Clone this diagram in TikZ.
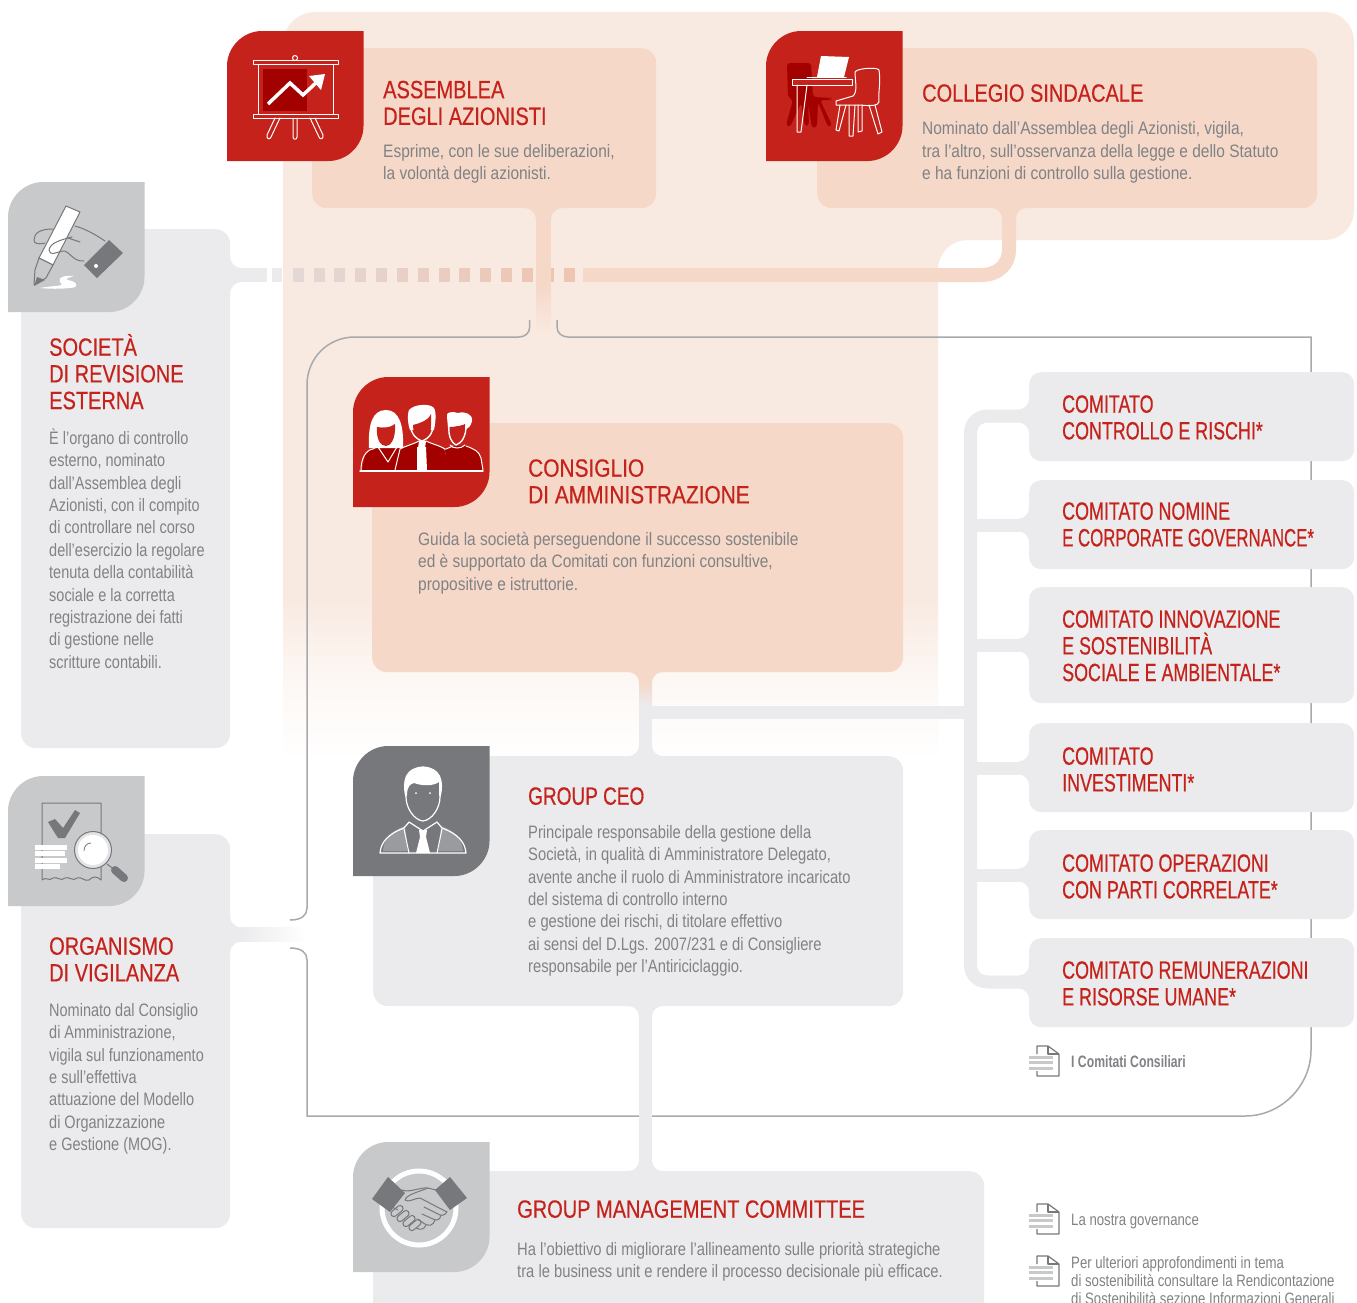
\documentclass[tikz,border=0pt]{standalone}
\usepackage{fontspec}
\usepackage{graphicx}
\newfontfamily\hdfont[FakeStretch=0.80,FakeBold=0.45]{Liberation Sans}
\newfontfamily\hdbfont[FakeStretch=0.835,FakeBold=0.45]{Liberation Sans}
\newfontfamily\cmfont[FakeStretch=0.715,FakeBold=0.45]{Liberation Sans}
\newfontfamily\bdfont[FakeStretch=0.82]{Liberation Sans}
\newfontfamily\bdafont[FakeStretch=0.86]{Liberation Sans}
\newfontfamily\bdcfont[FakeStretch=0.805]{Liberation Sans}
\newfontfamily\ntfont[FakeStretch=0.80]{Liberation Sans}
\newfontfamily\ntbfont[FakeStretch=0.74]{Liberation Sans}
\definecolor{redc}{HTML}{C4221A}
\definecolor{dred}{HTML}{A30000}
\definecolor{tabg}{HTML}{C8C9CB}
\definecolor{darkg}{HTML}{77787B}
\definecolor{midg}{HTML}{9A9B9E}
\definecolor{pang}{HTML}{EBEBED}
\definecolor{bgp}{HTML}{F9EAE1}
\definecolor{panp}{HTML}{F5D8C8}
\definecolor{txg}{HTML}{808285}
\definecolor{frm}{HTML}{A7A9AC}
\definecolor{sqa}{HTML}{EFC4B0}
\definecolor{sqb}{HTML}{E3D8D6}
\tikzset{
 panelp/.style={fill=panp,rounded corners=15pt,inner sep=0pt,anchor=north west},
 panelg/.style={fill=pang,rounded corners=15pt,inner sep=0pt,anchor=north west},
 combox/.style={fill=pang,rounded corners=12pt,inner sep=0pt,anchor=north west,minimum width=325pt},
 ttlst/.style={inner sep=0pt,anchor=north west,align=left,text=redc,font={\hdfont\fontsize{25}{26.7}\selectfont}},
 ttlb/.style={font={\hdbfont\fontsize{25}{26.7}\selectfont}},
 ttlcm/.style={font={\cmfont\fontsize{25}{26.7}\selectfont}},
 bodyst/.style={inner sep=0pt,anchor=north west,align=left,text=txg,font={\bdfont\fontsize{18}{22.4}\selectfont}},
 bodya/.style={font={\bdafont\fontsize{18}{22.4}\selectfont}},
 bodyc/.style={font={\bdcfont\fontsize{18}{22.4}\selectfont}},
 notest/.style={inner sep=0pt,anchor=north west,align=left,text=txg,font={\ntfont\fontsize{16.5}{18}\selectfont}},
 framel/.style={draw=frm,line width=1.5pt},
 wl/.style={draw=white,line width=1pt,line join=round,line cap=round},
 gl/.style={draw=darkg,line width=1pt,line join=round,line cap=round},
}
\newcommand\pnl[7][]{\node[#2,minimum width=#6pt,minimum height=#7pt,#1] (#3) at (#4,#5) {};}
\newcommand\ttl[5][]{\node[ttlst,#1] (#2) at (#3,{#4-25}) {\rule{0pt}{25pt}#5};}
\newcommand\bdy[5][]{\node[bodyst,#1] (#2) at (#3,{#4-18}) {\rule{0pt}{18pt}#5};}
\newcommand\tabsh[4]{%
 \coordinate (#1) at (#2,#3);
 \fill[#4] ({#2+35},#3) -- ({#2+136.5},#3) -- ({#2+136.5},{#3+95}) .. controls ({#2+136.5},{#3+114}) and ({#2+120.5},{#3+130}) .. ({#2+101.5},{#3+130}) -- (#2,{#3+130}) -- (#2,{#3+35}) .. controls (#2,{#3+16}) and ({#2+16},#3) .. ({#2+35},#3) -- cycle;}
% flareH: box edge x, centre y, half width, direction, radius, colour
\newcommand\flareH[6]{\fill[#6] ({#1+#4*#5},{#2-#3}) .. controls ({#1+#4*#5*.45},{#2-#3}) and (#1,{#2-#3-#5*.55}) .. (#1,{#2-#3-#5}) -- (#1,{#2+#3+#5}) .. controls (#1,{#2+#3+#5*.55}) and ({#1+#4*#5*.45},{#2+#3}) .. ({#1+#4*#5},{#2+#3}) -- cycle;}
% flareV: centre x, box edge y, half width, direction, radius, colour
\newcommand\flareV[6]{\fill[#6] ({#1-#3},{#2+#4*#5}) .. controls ({#1-#3},{#2+#4*#5*.45}) and ({#1-#3-#5*.55},#2) .. ({#1-#3-#5},#2) -- ({#1+#3+#5},#2) .. controls ({#1+#3+#5*.55},#2) and ({#1+#3},{#2+#4*#5*.45}) .. ({#1+#3},{#2+#4*#5}) -- cycle;}
\newcommand\docicon[3]{%
 \coordinate (#1) at (#2,#3);
 \foreach \dy in {11,16.5,22}{\draw[tabg,line width=3pt] (#2,{#3+\dy}) -- ({#2+24},{#3+\dy});}
 \draw[darkg,line width=1.2pt,line join=round] ({#2+8},{#3+8}) -- ({#2+8},#3) -- ({#2+19},#3) -- ({#2+30},{#3+8}) -- ({#2+30},{#3+30}) -- ({#2+8},{#3+30}) -- ({#2+8},{#3+25});
 \draw[darkg,line width=1.2pt,line join=round] ({#2+19},#3) -- ({#2+19},{#3+8}) -- ({#2+30},{#3+8});}
\begin{document}
\begin{tikzpicture}[x=1pt,y=-1pt]
\useasboundingbox (0,0) rectangle (1357,1302);
\clip (0,0) rectangle (1357,1302);
\fill[white] (0,0) rectangle (1357,1302);
% background
\fill[bgp] (283,600) -- (283,45) .. controls (283,26) and (297,12) .. (316,12) -- (1324,12) .. controls (1341,12) and (1354,25) .. (1354,42) -- (1354,210) .. controls (1354,227) and (1341,240) .. (1324,240) -- (968,240) .. controls (951,240) and (938,253) .. (938,270) -- (938,600) -- cycle;
\fill[top color=bgp,bottom color=bgp!35!white] (283,600) rectangle (938,680);
\fill[top color=bgp!35!white,bottom color=white] (283,680) rectangle (938,760);
% panels
\pnl{panelp}{asm}{312}{48}{344}{160}
\pnl{panelp}{col}{817}{48}{500}{160}
\pnl{panelg}{soc}{21}{229}{209}{519}
\pnl{panelg}{odv}{21}{834}{209}{394}
% squares
\fill[pang] (272,268) rectangle (282,282);
\foreach \sx/\sp in {293/0,314/8,334/16,355/24,376/32,397/40,418/48,439/56,459/64,480/72,501/80,522/88,543/94,564/100}{
 \fill[sqa!\sp!sqb] (\sx,268) rectangle ({\sx+10.5},282);
}
% frame
\coordinate (fa) at (529.7,320); \coordinate (fb) at (290,920);
\coordinate (fc) at (290,948); \coordinate (fd) at (557,320);
\draw[framel] (fa) -- (529.7,327) .. controls (529.7,333) and (525,337) .. (519,337) -- (355,337) .. controls (328,337) and (307,358) .. (307,385) -- (307,908) .. controls (307,915) and (302,920) .. (fb);
\draw[framel] (fc) .. controls (302,948) and (307,953) .. (307,960) -- (307,1116) -- (1245,1116) .. controls (1281,1116) and (1311,1086) .. (1311,1050) -- (1311,337) -- (568,337) .. controls (562,337) and (557,333) .. (557,327) -- (fd);
% soc connector
\flareH{230}{275}{7}{1}{11}{pang}
\draw[pang,line width=14pt] (soc.east |- 0,275) -- (267,275);
% peach band from collegio
\coordinate (cs) at (1009,208);
\flareV{1009}{208}{7}{1}{10}{panp}
\draw[panp,line width=14pt] (cs) -- (1009,250) .. controls (1009,265) and (997,275) .. (982,275) -- (583,275);
% assemblea stem
\flareV{543.5}{208}{7.5}{1}{11}{panp}
\fill[panp] (536,218) rectangle (551,285);
\fill[top color=panp,bottom color=bgp] (536,285) rectangle (551,335);
% odv connector
\flareH{230}{934.5}{7}{1}{11}{pang}
\fill[left color=pang,right color=white] (241,927.5) rectangle (306,941.5);
% CdA / CEO / GMC
\pnl{panelp}{cda}{372}{423}{531}{249}
\pnl{panelg}{ceo}{373}{756}{530}{250}
\pnl{panelg}{gmc}{373}{1171}{611}{160}
\flareV{645.5}{672}{6.5}{1}{10}{panp}
\fill[top color=panp,bottom color=pang] (639,682) rectangle (652,706);
\fill[pang] (639,706) rectangle (652,746);
\flareV{645.5}{756}{6.5}{-1}{10}{pang}
\flareV{645.5}{1006}{6.5}{1}{10}{pang}
\draw[pang,line width=13pt] (ceo.south -| 645.5,0) -- (gmc.north -| 645.5,0);
\flareV{645.5}{1171}{6.5}{-1}{10}{pang}
% committee tree
\draw[pang,line width=13pt] (645,712.5) -- (970,712.5);
\draw[pang,line width=13pt] (1029,416) -- (988,416) .. controls (978,416) and (970.5,423) .. (970.5,433) -- (970.5,965) .. controls (970.5,975) and (978,982) .. (988,982) -- (1029,982);
\foreach \by in {525,645,768,875}{\draw[pang,line width=13pt] (970,\by) -- (1029,\by);}
\foreach \by in {416,525,645,768,875,982}{\flareH{1029}{\by}{6.5}{-1}{10}{pang}}
\pnl{combox}{c1}{1029}{372}{325}{89}
\pnl{combox}{c2}{1029}{480}{325}{89}
\pnl{combox}{c3}{1029}{587}{325}{116}
\pnl{combox}{c4}{1029}{723}{325}{89}
\pnl{combox}{c5}{1029}{830}{325}{89}
\pnl{combox}{c6}{1029}{938}{325}{89}
% tabs and icons
\tabsh{ta}{227}{31}{redc}
\tabsh{tb}{766}{31}{redc}
\tabsh{tc}{8}{182}{tabg}
\tabsh{td}{353}{377}{redc}
\tabsh{te}{353}{746}{darkg}
\tabsh{tf}{8}{776}{tabg}
\tabsh{tg}{353}{1142}{tabg}
% presentation icon
\fill[dred] (263,69) rectangle (307,111);
\draw[wl] (295,58) circle [radius=2.5];
\draw[wl] (253,60.5) rectangle (338,64.5);
\draw[wl] (253,114) rectangle (338,118);
\draw[wl] (258.5,64.5) -- (258.5,114);
\draw[wl] (333,64.5) -- (333,114);
\draw[wl] (293,118) -- (293,137) .. controls (293,140) and (297,140) .. (297,137) -- (297,118);
\draw[wl] (275,118) -- (267,135) .. controls (266,139) and (270,140) .. (271,137) -- (280,118);
\draw[wl] (310,118) -- (319,137) .. controls (320,140) and (324,139) .. (323,135) -- (315,118);
\draw[white,line width=3.5pt,line join=miter] (268,104) -- (290,83) -- (303,95) -- (319,80);
\fill[white] (325,74) -- (321,90) -- (309,76) -- cycle;
% desk and chairs icon
\fill[dred,rounded corners=3pt] (787,63) -- (811,63) -- (813,97) -- (831,98) -- (831,100) -- (820,100) -- (832,125) -- (828,127) -- (818,102) -- (817,127) -- (812,128) -- (808,103) -- (809,125) -- (805,126) -- (801,103) -- (790,127) -- (786,125) -- (793,100) -- (788,97) -- cycle;
\fill[white] (821,56) -- (849,57) -- (844,77) -- (817,77) -- cycle;
\fill[redc] (792.5,79) rectangle (852,85);
\draw[wl] (807,77.5) -- (846,77.5);
\draw[wl] (792.5,79) rectangle (852,85);
\draw[wl] (797,85) -- (797,132) -- (801,132) -- (807,85);
\fill[redc] (855,72) .. controls (857,68) and (878,67) .. (879,70) .. controls (881,85) and (878,90) .. (879,102) .. controls (878,106) and (870,106) .. (860,105) -- (836,105) -- (836,101) -- (853,96) .. controls (858,92) and (855,80) .. (855,72) -- cycle;
\draw[wl] (855,72) .. controls (857,68) and (878,67) .. (879,70) .. controls (881,85) and (878,90) .. (879,102) .. controls (878,106) and (870,106) .. (860,105) -- (836,105) -- (836,101) -- (853,96) .. controls (858,92) and (855,80) .. (855,72) -- cycle;
\draw[wl] (840,105) -- (836,130) -- (839,131) -- (846,105);
\draw[wl] (849,105) -- (849,136) -- (853,136) -- (855,105);
\draw[wl] (858,105) -- (858,132) -- (862,131) -- (862,105);
\draw[wl] (869,105) -- (878,134) -- (882,132) -- (875,105);
% pen icon
\draw[gl,fill=white] (66,206) -- (80,212) -- (53,265) -- (39,258) -- cycle;
\fill[tabg] (39,258) -- (53,265) -- (47,276) -- (36,282) -- (34,283) -- cycle;
\draw[gl] (39,258) -- (53,265) -- (46,278) -- (34,285) -- (35,270) -- cycle;
\fill[darkg] (37,277) -- (45,280) -- (34,286) -- cycle;
\draw[gl,line width=1pt] (75,226) .. controls (86,229) and (96,235) .. (105,241);
\draw[gl] (53,229) .. controls (40,229) and (34,233) .. (34,240) .. controls (34,243) and (37,245) .. (45,243);
\draw[gl] (68,238) -- (80,242);
\draw[gl] (72,237) .. controls (60,240) and (50,243) .. (49,250) .. controls (50,256) and (55,253) .. (62,251) .. controls (70,250) and (72,262) .. (84,261);
\fill[darkg] (109,240) -- (123,253) -- (97,278) -- (84,265) -- cycle;
\fill[white] (96,266) circle [radius=2];
\fill[white] (40,288) .. controls (55,285) and (66,287) .. (60,282) .. controls (57,277) and (66,275) .. (74,276) .. controls (68,278) and (62,279) .. (72,281) .. controls (80,285) and (76,288) .. (70,288) .. controls (60,289) and (50,289) .. (40,288) -- cycle;
% people icon
\fill[dred] (362,470) -- (365,455) .. controls (368,449) and (375,449) .. (380,445) -- (395,445) .. controls (400,449) and (408,449) .. (411,455) -- (416,470) -- cycle;
\fill[white] (369,448) .. controls (368,425) and (372,410) .. (386,410) .. controls (399,410) and (404,425) .. (403,448) -- cycle;
\fill[redc] (377,427) .. controls (383,428) and (390,428) .. (395,424) .. controls (396,440) and (390,446) .. (386,446) .. controls (381,446) and (376,440) .. (377,427) -- cycle;
\draw[wl] (361,470) .. controls (361,460) and (365,450) .. (373,449) -- (380,445);
\draw[wl] (378,447) -- (388,462) -- (397,447);
\fill[dred] (395,470) -- (400,450) .. controls (405,446) and (415,444) .. (422,440) .. controls (432,444) and (440,446) .. (445,450) -- (450,470) -- cycle;
\draw[wl] (395,470) -- (400,449) .. controls (405,446) and (414,444) .. (419,441);
\draw[wl] (426,441) .. controls (432,444) and (441,446) .. (445,449) -- (450,470);
\fill[dred] (447,470) -- (445,450) -- (453,446) -- (466,446) .. controls (472,449) and (478,450) .. (480,456) -- (483,470) -- cycle;
\draw[wl] (446,449) -- (453,446);
\draw[wl] (466,446) .. controls (474,449) and (479,451) .. (481,458) -- (483,470);
\fill[white] (409,410) .. controls (414,404) and (430,403) .. (434,408) .. controls (437,413) and (435,425) .. (434,430) -- (410,430) .. controls (408,425) and (407,415) .. (409,410) -- cycle;
\fill[redc] (413,425) .. controls (420,423) and (428,421) .. (431,414) .. controls (431,430) and (432,438) .. (422,440) .. controls (415,438) and (413,432) .. (413,425) -- cycle;
\draw[wl,line width=1.4pt] (410,420) .. controls (410,432) and (414,438) .. (422,441) .. controls (430,438) and (434,432) .. (433,420);
\fill[white] (447,417) .. controls (445,412) and (452,411) .. (458,413) .. controls (465,411) and (473,414) .. (472,421) .. controls (471,426) and (468,429) .. (465,429) -- (464,425) -- (448,428) -- cycle;
\fill[redc] (449,427) .. controls (455,427) and (462,426) .. (465,424) .. controls (466,436) and (462,443) .. (456,444) .. controls (451,442) and (448,436) .. (449,427) -- cycle;
\draw[wl,line width=1.4pt] (449,426) .. controls (448,437) and (452,443) .. (456,445) .. controls (462,443) and (466,436) .. (466,426);
\draw[wl] (450,445) .. controls (453,449) and (461,449) .. (465,445);
\fill[white] (417,447) -- (426,447) -- (427,470) -- (417,470) -- cycle;
\fill[white] (419,441) -- (426,441) -- (425,448) -- (418,448) -- cycle;
\draw[wl,line width=1.4pt] (360,471) -- (483,471);
% CEO icon
\fill[midg] (383,851) .. controls (384,840) and (389,832) .. (405,826) -- (408,851) -- cycle;
\fill[midg] (463,851) .. controls (462,840) and (457,832) .. (441,826) -- (438,851) -- cycle;
\draw[wl,line width=1.2pt] (380,853) .. controls (381,842) and (388,834) .. (404,828) -- (409,822) -- (423,831) -- (437,822) -- (442,828) .. controls (458,834) and (465,842) .. (466,853) -- cycle;
\draw[wl] (404,829) -- (409,853);
\draw[wl] (442,829) -- (437,853);
\fill[white] (419,830) -- (427,830) -- (426,837) -- (430,853) -- (416,853) -- (420,837) -- cycle;
\fill[white] (406,797) .. controls (402,780) and (406,768) .. (423,767) .. controls (440,768) and (444,780) .. (440,797) -- (439,795) -- (439,782) .. controls (435,785) and (425,787) .. (414,783) .. controls (410,784) and (407,787) .. (407,795) -- cycle;
\draw[wl,line width=1.2pt] (406,797) .. controls (402,780) and (406,768) .. (423,767) .. controls (440,768) and (444,780) .. (440,797) .. controls (440,808) and (432,820) .. (423,821) .. controls (414,820) and (406,808) .. (406,797) -- cycle;
\fill[white] (416,793) circle [radius=1];
\fill[white] (430,793) circle [radius=1];
% audit icon
\draw[darkg,line width=1pt,line join=round] (42,880) -- (42,803) -- (101,803) -- (101,880) .. controls (97,876) and (93,876) .. (89,880) .. controls (85,882) and (81,876) .. (77,878) .. controls (73,882) and (69,876) .. (65,878) .. controls (61,882) and (57,876) .. (53,878) .. controls (49,882) and (46,876) .. (42,880);
\fill[darkg] (48,822) -- (55,819) -- (63,828) -- (75,810) -- (80,813) -- (65,838) -- (58,838) -- cycle;
\fill[white] (35,845) rectangle (67,850);
\fill[white] (35,851) rectangle (65,856);
\fill[white] (35,858) rectangle (67,863);
\fill[white] (35,864) rectangle (60,869);
\draw[darkg,line width=1pt] (107,864) -- (115,870);
\draw[darkg,line width=8pt,line cap=round] (115,870) -- (124,878);
\fill[tabg!50!white] (93,850) circle [radius=18];
\draw[darkg,line width=1pt] (93,850) circle [radius=18.5];
\fill[white] (93,850) circle [radius=15];
\draw[darkg,line width=.8pt] (84,851) .. controls (84,846) and (87,843) .. (91,843);
% handshake icon
\draw[white,line width=5pt] (419,1208) circle [radius=37];
\fill[darkg] (388,1177) -- (405,1193) -- (390,1212) -- (372,1199) -- cycle;
\fill[darkg] (450,1177) -- (467,1198) -- (450,1210) -- (435,1190) -- cycle;
\draw[gl] (402,1190) .. controls (410,1193) and (420,1187) .. (428,1188) -- (436,1190);
\draw[gl] (428,1188) .. controls (418,1192) and (406,1195) .. (405,1200) .. controls (408,1203) and (415,1198) .. (420,1198) -- (447,1212);
\draw[gl] (447,1212) .. controls (444,1216) and (441,1216) .. (438,1214) -- (424,1207);
\draw[gl] (441,1215) .. controls (440,1220) and (437,1221) .. (433,1219) -- (422,1214);
\draw[gl] (435,1220) .. controls (433,1226) and (429,1226) .. (425,1224) -- (417,1219);
\draw[gl] (426,1225) .. controls (424,1230) and (420,1230) .. (416,1228);
\draw[gl] (391,1207) .. controls (395,1208) and (398,1210) .. (398,1210);
\foreach \cx/\cy in {397/1211,403/1216,409/1221,415/1225}{
 \draw[gl,rotate around={40:(\cx,\cy)},rounded corners=3pt] ({\cx-7},{\cy-3}) rectangle ({\cx+7},{\cy+3});
}
% texts
\ttl{t1}{383}{98}{ASSEMBLEA\\DEGLI AZIONISTI}
\bdy[bodya]{b1}{383}{157}{Esprime, con le sue deliberazioni,\\la volontà degli azionisti.}
\ttl{t2}{922}{101.5}{COLLEGIO SINDACALE}
\bdy[bodya]{b2}{922}{134.5}{Nominato dall’Assemblea degli Azionisti, vigila,\\tra l’altro, sull’osservanza della legge e dello Statuto\\e ha funzioni di controllo sulla gestione.}
\ttl{t3}{49}{355.5}{SOCIETÀ\\DI REVISIONE\\ESTERNA}
\bdy[bodyc]{b3}{49}{444}{È l’organo di controllo\\esterno, nominato\\dall’Assemblea degli\\Azionisti, con il compito\\di controllare nel corso\\dell’esercizio la regolare\\tenuta della contabilità\\sociale e la corretta\\registrazione dei fatti\\di gestione nelle\\scritture contabili.}
\ttl[ttlb]{t4}{528}{476.5}{CONSIGLIO\\DI AMMINISTRAZIONE}
\bdy[bodya]{b4}{418}{545}{Guida la società perseguendone il successo sostenibile\\ed è supportato da Comitati con funzioni consultive,\\propositive e istruttorie.}
\ttl{t5}{528}{804.5}{\scalebox{.95}[1]{GROUP CEO}}
\bdy{b5}{528}{838}{Principale responsabile della gestione della\\Società, in qualità di Amministratore Delegato,\\avente anche il ruolo di Amministratore incaricato\\del sistema di controllo interno\\e gestione dei rischi, di titolare effettivo\\ai sensi del D.Lgs. 2007/231 e di Consigliere\\responsabile per l’Antiriciclaggio.}
\ttl{t6}{49}{954.5}{ORGANISMO\\DI VIGILANZA}
\bdy[bodyc]{b6}{49}{1016}{Nominato dal Consiglio\\di Amministrazione,\\vigila sul funzionamento\\e sull’effettiva\\attuazione del Modello\\di Organizzazione\\e Gestione (MOG).}
\ttl{t7}{517}{1217.5}{GROUP MANAGEMENT COMMITTEE}
\bdy{b7}{517}{1255}{Ha l’obiettivo di migliorare l’allineamento sulle priorità strategiche\\tra le business unit e rendere il processo decisionale più efficace.}
\ttl[ttlcm]{k1}{1062}{412.5}{COMITATO\\CONTROLLO E RISCHI*}
\ttl[ttlcm]{k2}{1062}{519.5}{COMITATO NOMINE\\\scalebox{.94}[1]{E CORPORATE GOVERNANCE*}}
\ttl[ttlcm]{k3}{1062}{627.5}{COMITATO INNOVAZIONE\\E SOSTENIBILITÀ\\SOCIALE E AMBIENTALE*}
\ttl[ttlcm]{k4}{1062}{764.5}{COMITATO\\INVESTIMENTI*}
\ttl[ttlcm]{k5}{1062}{871.5}{COMITATO OPERAZIONI\\CON PARTI CORRELATE*}
\ttl[ttlcm]{k6}{1062}{978.5}{COMITATO REMUNERAZIONI\\E RISORSE UMANE*}
% notes
\docicon{d1}{1029}{1046}
\docicon{d2}{1029}{1204}
\docicon{d3}{1029}{1256}
\node[notest,font={\ntbfont\bfseries\fontsize{16.5}{18}\selectfont}] (n1) at (1071,{1067-16.5}) {\rule{0pt}{16.5pt}I Comitati Consiliari};
\node[notest] (n2) at (1071,{1225-16.5}) {\rule{0pt}{16.5pt}La nostra governance};
\node[notest] (n3) at (1071,{1268-16.5}) {\rule{0pt}{16.5pt}Per ulteriori approfondimenti in tema\\di sostenibilità consultare la Rendicontazione\\di Sostenibilità sezione Informazioni Generali};
\end{tikzpicture}
\end{document}
